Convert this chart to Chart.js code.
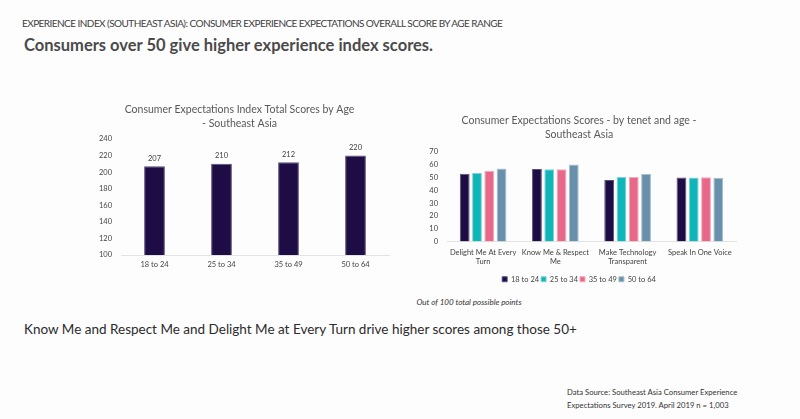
<!DOCTYPE html>
<html lang="en">
<head>
    <meta charset="UTF-8">
    <title>Experience Index - Southeast Asia</title>
    <script src="https://cdn.jsdelivr.net/npm/chart.js"></script>
    <style>
        body { margin: 0; width: 800px; height: 419px; background: #fdfdfd; position: relative; overflow: hidden; font-family: Lato, sans-serif; }
        .txt { position: absolute; white-space: nowrap; }
        #kicker { left: 22px; top: 17px; font-size: 10px; color: #404040; letter-spacing: -0.55px; }
        #headline { left: 24px; top: 35px; font-size: 16.5px; font-weight: 700; color: #4a4a4a; }
        #note { left: 0; width: 938px; top: 297px; text-align: center; font-size: 8px; font-style: italic; color: #333; }
        #takeaway { left: 24px; top: 321px; font-size: 13.5px; color: #2b2b2b; }
        #source { left: 567px; top: 386px; font-size: 7.7px; color: #333; line-height: 12.5px; }
        canvas { position: absolute; }
    </style>
</head>
<body>
    <div class="txt" id="kicker">EXPERIENCE INDEX (SOUTHEAST ASIA): CONSUMER EXPERIENCE EXPECTATIONS OVERALL SCORE BY AGE RANGE</div>
    <div class="txt" id="headline">Consumers over 50 give higher experience index scores.</div>

    <canvas id="total-chart" width="315" height="171" style="left: 90px; top: 103px; width: 315px; height: 171px;"></canvas>
    <canvas id="tenet-chart" width="328" height="179" style="left: 422px; top: 114px; width: 328px; height: 179px;"></canvas>

    <div class="txt" id="note">Out of 100 total possible points</div>
    <div class="txt" id="takeaway">Know Me and Respect Me and Delight Me at Every Turn drive higher scores among those 50+</div>
    <div class="txt" id="source">Data Source: Southeast Asia Consumer Experience<br>Expectations Survey 2019. April 2019 n = 1,003</div>

    <script>
        // age ranges and total index scores (left chart)
        const ageRanges = ['18 to 24', '25 to 34', '35 to 49', '50 to 64'];
        const totalScores = [207, 210, 212, 220];

        // tenets and per-age scores (right chart)
        const tenets = [
            ['Delight Me At Every', 'Turn'],
            ['Know Me & Respect', 'Me'],
            ['Make Technology', 'Transparent'],
            ['Speak In One Voice']
        ];
        const scores18to24 = [53.0, 56.6, 48.1, 50.1];
        const scores25to34 = [53.6, 56.4, 50.4, 50.1];
        const scores35to49 = [55.3, 56.4, 50.4, 50.3];
        const scores50to64 = [57.1, 60.1, 52.8, 49.9];

        const colors = ['#1e0d45', '#10b5ba', '#e8688a', '#6890ab'];
        const borders = ['#5a4d7c', '#7fd4d6', '#f2a7ba', '#a7bfce'];
        const textGray = '#595959';
        const tickFont = { family: 'Lato', size: 7.5 };

        const valueLabels = {
            id: 'valueLabels',
            afterDatasetsDraw(chart) {
                const ctx = chart.ctx;
                ctx.save();
                ctx.font = '7.5px Lato';
                ctx.fillStyle = '#404040';
                ctx.textAlign = 'center';
                ctx.textBaseline = 'middle';
                chart.getDatasetMeta(0).data.forEach((bar, i) => {
                    ctx.fillText(chart.data.datasets[0].data[i], bar.x, bar.y - 8);
                });
                ctx.restore();
            }
        };

        new Chart(document.getElementById('total-chart'), {
            type: 'bar',
            data: {
                labels: ageRanges,
                datasets: [{
                    data: totalScores,
                    backgroundColor: colors[0],
                    borderColor: borders[0],
                    borderWidth: 1,
                    categoryPercentage: 1,
                    barPercentage: 0.31
                }]
            },
            options: {
                responsive: false,
                animation: false,
                layout: { padding: { left: 0, right: 16, top: 0, bottom: 0 } },
                plugins: {
                    legend: { display: false },
                    tooltip: { enabled: false },
                    title: {
                        display: true,
                        text: ['Consumer Expectations Index Total Scores by Age', '- Southeast Asia'],
                        color: textGray,
                        font: { family: 'Lato', size: 10.5, weight: 'normal', lineHeight: 1.33 },
                        padding: { top: 0, bottom: 8 }
                    }
                },
                scales: {
                    x: {
                        grid: { display: false, drawTicks: false },
                        border: { display: true, color: '#e3e3e3', width: 1 },
                        ticks: { color: '#444', font: tickFont, padding: 5 }
                    },
                    y: {
                        min: 100,
                        max: 240,
                        ticks: { stepSize: 20, color: '#444', font: tickFont, padding: 9 },
                        grid: { display: false, drawTicks: false },
                        border: { display: false },
                        afterFit: s => { s.width = 31; }
                    }
                }
            },
            plugins: [valueLabels]
        });

        const series = [scores18to24, scores25to34, scores35to49, scores50to64];

        new Chart(document.getElementById('tenet-chart'), {
            type: 'bar',
            data: {
                labels: tenets,
                datasets: series.map((vals, i) => ({
                    label: ageRanges[i],
                    data: vals,
                    backgroundColor: colors[i],
                    borderColor: borders[i],
                    borderWidth: 1,
                    categoryPercentage: 0.68,
                    barPercentage: 0.8
                }))
            },
            options: {
                responsive: false,
                animation: false,
                layout: { padding: { left: 0, right: 14, top: 0, bottom: 0 } },
                plugins: {
                    tooltip: { enabled: false },
                    title: {
                        display: true,
                        text: ['Consumer Expectations Scores - by tenet and age -', 'Southeast Asia'],
                        color: textGray,
                        font: { family: 'Lato', size: 10.5, weight: 'normal', lineHeight: 1.33 },
                        padding: { top: 0, bottom: 10 }
                    },
                    legend: {
                        position: 'bottom',
                        labels: {
                            color: '#444',
                            font: tickFont,
                            boxWidth: 5,
                            boxHeight: 5,
                            padding: 2
                        }
                    }
                },
                scales: {
                    x: {
                        grid: { display: false, drawTicks: false },
                        border: { display: true, color: '#e3e3e3', width: 1 },
                        ticks: { color: '#444', font: tickFont, padding: 7, maxRotation: 0, autoSkip: false }
                    },
                    y: {
                        min: 0,
                        max: 70,
                        ticks: { stepSize: 10, color: '#444', font: tickFont, padding: 9 },
                        grid: { display: false, drawTicks: false },
                        border: { display: false },
                        afterFit: s => { s.width = 25; }
                    }
                }
            }
        });
    </script>
</body>
</html>
